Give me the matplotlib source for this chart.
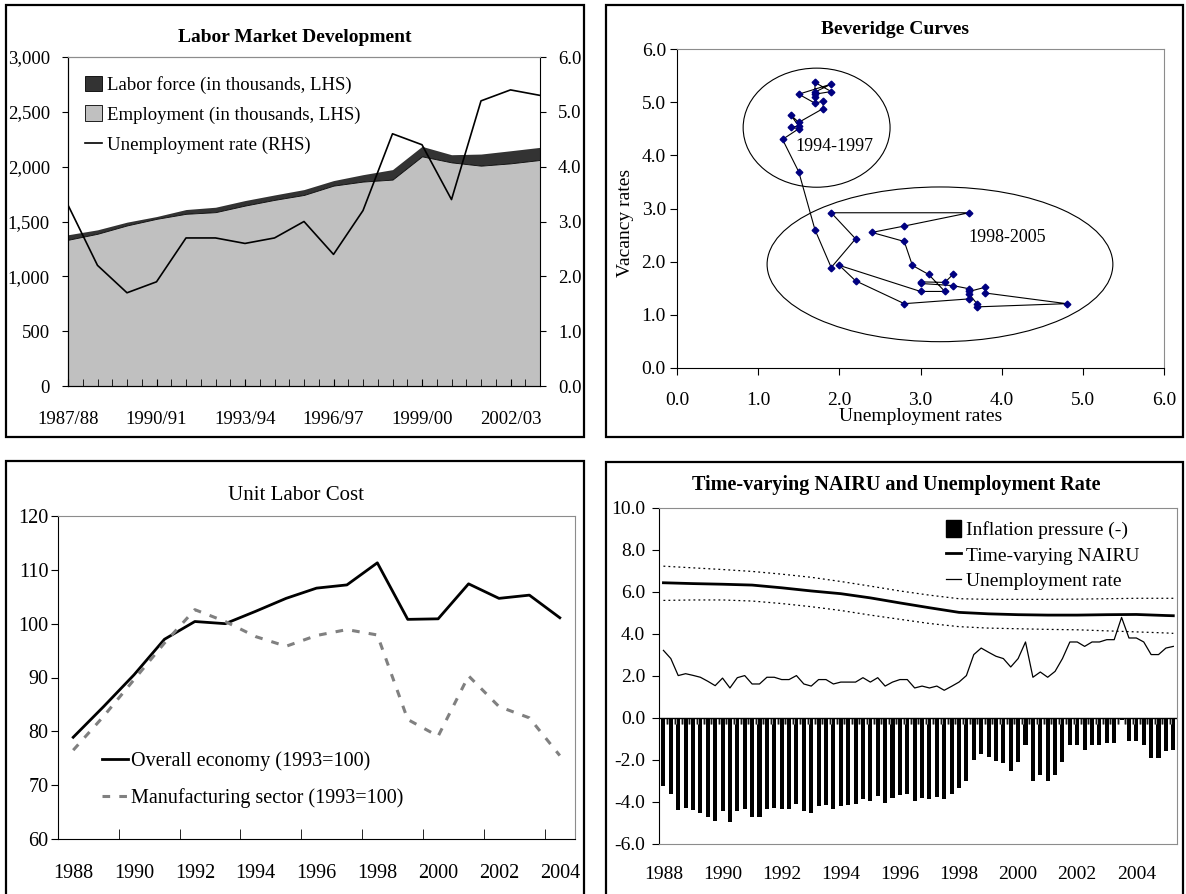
import matplotlib
matplotlib.use("Agg")
import matplotlib.pyplot as plt
from matplotlib.patches import Ellipse, Rectangle, Patch
from matplotlib.lines import Line2D
from matplotlib.ticker import FuncFormatter, MultipleLocator

plt.rcParams["font.family"] = ["Liberation Serif", "DejaVu Serif"]
plt.rcParams["axes.unicode_minus"] = False

W, H = 1186, 894

# ---- Labor market development (annual, 1987/88 - 2003/04)
lm_labels = ["1987/88", "1990/91", "1993/94", "1996/97", "1999/00", "2002/03"]
labor_force = [1379, 1424, 1494, 1545, 1609, 1630, 1691, 1742, 1791, 1873,
               1927, 1973, 2185, 2109, 2115, 2145, 2176]
employment = [1333, 1388, 1464, 1524, 1570, 1585, 1645, 1697, 1742, 1827,
              1864, 1882, 2094, 2039, 2009, 2030, 2061]
unemp_annual = [3.3, 2.2, 1.7, 1.9, 2.7, 2.7, 2.6, 2.7, 3.0, 2.4,
                3.2, 4.6, 4.4, 3.4, 5.2, 5.4, 5.3]

# ---- Beveridge curve (unemployment rate, vacancy rate)
bev_u = [1.7, 1.7, 1.9, 1.7, 1.7, 1.9, 1.5, 1.7, 1.8, 1.8, 1.5, 1.4, 1.5, 1.4,
         1.5, 1.3, 1.5, 1.7, 1.9, 2.2, 1.9, 3.6, 2.8, 2.4, 2.8, 2.9, 3.1, 3.3,
         3.0, 2.0, 2.2, 2.8, 3.6, 3.6, 3.7, 3.7, 4.8, 3.8, 3.8, 3.6, 3.6, 3.4,
         3.0, 3.0, 3.3, 3.4]
bev_v = [5.10, 5.37, 5.20, 5.15, 5.19, 5.34, 5.15, 4.98, 5.02, 4.88, 4.62, 4.76,
         4.55, 4.53, 4.50, 4.30, 3.69, 2.60, 1.89, 2.43, 2.92, 2.92, 2.67, 2.55,
         2.38, 1.93, 1.76, 1.44, 1.44, 1.93, 1.64, 1.21, 1.30, 1.39, 1.20, 1.15,
         1.21, 1.41, 1.52, 1.44, 1.49, 1.55, 1.59, 1.62, 1.61, 1.76]

# ---- Unit labor cost
ulc_years = list(range(1988, 2005))
ulc_overall = [78.9, 84.6, 90.5, 97.1, 100.4, 100.0, 102.3, 104.7, 106.6, 107.2,
               111.3, 100.8, 100.9, 107.4, 104.7, 105.3, 101.1]
ulc_manuf = [76.5, 82.8, 89.6, 96.4, 102.6, 100.4, 97.6, 95.8, 97.8, 98.9,
             97.9, 82.2, 79.1, 90.3, 84.6, 82.5, 75.5]

# ---- NAIRU (quarterly 1988Q1 - 2005Q2)
nr_labels = ["1988", "1990", "1992", "1994", "1996", "1998", "2000", "2002", "2004"]
infl_pressure = [-3.25, -3.6, -4.4, -4.3, -4.4, -4.5, -4.7, -4.9, -4.45, -4.95,
                 -4.45, -4.35, -4.7, -4.7, -4.35, -4.3, -4.35, -4.35, -4.1, -4.45,
                 -4.5, -4.2, -4.15, -4.35, -4.2, -4.15, -4.1, -3.85, -3.95, -3.7,
                 -4.05, -3.8, -3.65, -3.6, -3.95, -3.8, -3.85, -3.75, -3.85, -3.6,
                 -3.35, -3.0, -2.0, -1.7, -1.85, -2.05, -2.15, -2.5, -2.1, -1.3,
                 -3.0, -2.7, -3.0, -2.7, -2.1, -1.3, -1.3, -1.5, -1.3, -1.3,
                 -1.2, -1.2, -0.1, -1.1, -1.1, -1.3, -1.9, -1.9, -1.55, -1.5]
unemp_q = [3.22, 2.83, 2.02, 2.11, 2.03, 1.94, 1.75, 1.54, 1.90, 1.43,
           1.92, 2.02, 1.62, 1.62, 1.94, 1.94, 1.83, 1.83, 2.02, 1.62,
           1.52, 1.83, 1.83, 1.62, 1.71, 1.71, 1.71, 1.92, 1.71, 1.92,
           1.52, 1.71, 1.83, 1.83, 1.43, 1.52, 1.43, 1.52, 1.32, 1.51,
           1.71, 2.02, 3.02, 3.33, 3.13, 2.94, 2.83, 2.43, 2.83, 3.62,
           1.94, 2.19, 1.94, 2.22, 2.83, 3.62, 3.62, 3.41, 3.62, 3.62,
           3.73, 3.73, 4.79, 3.81, 3.81, 3.62, 3.02, 3.02, 3.33, 3.41]
# NAIRU and its band, read once a year (quarter index of each Q1, plus last quarter)
nairu_q = [0, 4, 8, 12, 16, 20, 24, 28, 32, 36, 40, 44, 48, 52, 56, 60, 64, 68, 69]
nairu = [6.44, 6.40, 6.37, 6.33, 6.20, 6.05, 5.92, 5.72, 5.48, 5.25,
         5.03, 4.96, 4.92, 4.90, 4.90, 4.92, 4.93, 4.88, 4.87]
nairu_hi = [7.23, 7.15, 7.07, 6.98, 6.85, 6.70, 6.50, 6.28, 6.05, 5.85,
            5.68, 5.65, 5.65, 5.65, 5.66, 5.68, 5.70, 5.70, 5.70]
nairu_lo = [5.60, 5.62, 5.62, 5.57, 5.45, 5.30, 5.12, 4.90, 4.70, 4.50,
            4.35, 4.28, 4.25, 4.22, 4.20, 4.15, 4.10, 4.05, 4.03]


def box(x0, y0, x1, y1):
    # pixel box (top-left origin) -> figure fraction rect
    return [x0 / W, 1 - y1 / H, (x1 - x0) / W, (y1 - y0) / H]


def ftext(x, y, s, **kw):
    fig.text(x / W, 1 - y / H, s, ha="center", va="center", **kw)


fig = plt.figure(figsize=(W / 100, H / 100), dpi=100)

# panel frames
for x0, y0, x1, y1 in [(6, 5, 584, 437), (606, 5, 1183, 437),
                       (6, 461, 584, 900), (606, 462, 1183, 900)]:
    fig.patches.append(Rectangle((x0 / W, 1 - y1 / H), (x1 - x0) / W, (y1 - y0) / H,
                                 transform=fig.transFigure, fill=False,
                                 edgecolor="black", linewidth=1.6))

GRAY = "#8c8c8c"

# ---------------- top-left: Labor Market Development
ax1 = fig.add_axes(box(68, 57, 540, 386))
xs = list(range(len(employment)))
ax1.fill_between(xs, employment, labor_force, color="#333333", linewidth=0)
ax1.fill_between(xs, 0, employment, color="#c0c0c0", edgecolor="black", linewidth=0.6)
ax1.set_xlim(0, 16)
ax1.set_ylim(0, 3000)
ax1.set_yticks(range(0, 3001, 500))
ax1.yaxis.set_major_formatter(FuncFormatter(lambda v, p: f"{int(v):,}"))
ax1.set_xticks([0, 3, 6, 9, 12, 15])
ax1.set_xticklabels(lm_labels)
ax1.xaxis.set_minor_locator(MultipleLocator(0.5))
ax1.tick_params(axis="x", which="both", direction="in", length=5, labelsize=13.5, pad=18)
ax1.tick_params(axis="y", direction="out", length=4, labelsize=13.5, pad=9)
ax1.spines["top"].set_color(GRAY)
ax1.spines["right"].set_visible(False)
ax1b = ax1.twinx()
ax1b.plot(xs, unemp_annual, color="black", linewidth=1.2)
ax1b.set_ylim(0, 6)
ax1b.set_yticks([0, 1, 2, 3, 4, 5, 6])
ax1b.yaxis.set_major_formatter(FuncFormatter(lambda v, p: f"{v:.1f}"))
ax1b.tick_params(axis="y", direction="out", length=4, labelsize=13.5, pad=9)
ax1b.spines["top"].set_color(GRAY)
ax1b.set_xlim(0, 16)
handles = [Patch(facecolor="#333333", edgecolor="black", linewidth=0.6),
           Patch(facecolor="#c0c0c0", edgecolor="black", linewidth=0.6),
           Line2D([], [], color="black", linewidth=1.2)]
ax1b.legend(handles, ["Labor force (in thousands, LHS)", "Employment (in thousands, LHS)",
                      "Unemployment rate (RHS)"],
            loc="upper left", bbox_to_anchor=(0.0, 0.995), frameon=False, fontsize=13.5,
            handlelength=0.9, handleheight=0.9, handletextpad=0.3, labelspacing=0.62)
ftext(295, 37, "Labor Market Development", fontsize=14, fontweight="bold")

# ---------------- top-right: Beveridge curves
ax2 = fig.add_axes(box(677, 49, 1164, 368))
ax2.plot(bev_u, bev_v, color="black", linewidth=0.8, marker="D", markersize=3.4,
         markerfacecolor="#000080", markeredgecolor="#000080")
ax2.add_patch(Ellipse((1.72, 4.52), 1.81, 2.24, fill=False, edgecolor="black", linewidth=0.8))
ax2.add_patch(Ellipse((3.24, 1.95), 4.26, 2.91, fill=False, edgecolor="black", linewidth=0.8))
ax2.text(1.94, 4.16, "1994-1997", ha="center", va="center", fontsize=13)
ax2.text(4.07, 2.46, "1998-2005", ha="center", va="center", fontsize=13)
ax2.set_xlim(0, 6)
ax2.set_ylim(0, 6)
ax2.set_xticks([0, 1, 2, 3, 4, 5, 6])
ax2.set_yticks([0, 1, 2, 3, 4, 5, 6])
fmt1 = FuncFormatter(lambda v, p: f"{v:.1f}")
ax2.xaxis.set_major_formatter(fmt1)
ax2.yaxis.set_major_formatter(fmt1)
ax2.tick_params(axis="x", direction="out", length=5, labelsize=14, pad=12)
ax2.tick_params(axis="y", direction="out", length=5, labelsize=14, pad=3)
ax2.spines["top"].set_color(GRAY)
ax2.spines["right"].set_color(GRAY)
ftext(895, 30, "Beveridge Curves", fontsize=14, fontweight="bold")
ftext(921, 417, "Unemployment rates", fontsize=14)
ftext(626, 223, "Vacancy rates", fontsize=14, rotation=90)

# ---------------- bottom-left: Unit labor cost
ax3 = fig.add_axes(box(58, 516, 575, 839))
ax3.plot(ulc_years, ulc_overall, color="black", linewidth=2.0,
         label="Overall economy (1993=100)")
ax3.plot(ulc_years, ulc_manuf, color="#808080", linewidth=2.2, dashes=(2.5, 3),
         label="Manufacturing sector (1993=100)")
ax3.set_xlim(1987.5, 2004.5)
ax3.set_ylim(60, 120)
ax3.set_yticks(range(60, 121, 10))
ax3.set_xticks(range(1988, 2005, 2))
ax3.set_xticks([1989.5 + 2 * i for i in range(8)], minor=True)
ax3.tick_params(axis="x", which="major", length=0, labelsize=14.5, pad=18)
ax3.tick_params(axis="x", which="minor", direction="in", length=7)
ax3.tick_params(axis="y", direction="out", length=5, labelsize=14.5, pad=2)
ax3.spines["top"].set_color(GRAY)
ax3.spines["right"].set_color(GRAY)
ax3.legend(loc="lower left", bbox_to_anchor=(0.05, 0.041), frameon=False, fontsize=14.5,
           handlelength=1.3, handletextpad=0.15, labelspacing=0.85)
ftext(296, 495, "Unit Labor Cost", fontsize=15)

# ---------------- bottom-right: NAIRU
ax4 = fig.add_axes(box(659, 508, 1177, 844))
q = list(range(len(infl_pressure)))
ax4.bar(q, infl_pressure, width=0.55, color="black", label="Inflation pressure (-)")
ax4.vlines([i + 0.5 for i in q[:-1]], -0.3, 0, color="#9a9a9a", linewidth=2.2)
ax4.vlines([i + 0.5 for i in q[:-1]], -0.3, 0, color="black", linewidth=0.6)
ax4.axhline(0, color="black", linewidth=1.0)
ax4.plot(nairu_q, nairu, color="black", linewidth=2.0, label="Time-varying NAIRU")
ax4.plot(nairu_q, nairu_hi, color="black", linewidth=0.9, linestyle=(0, (1.5, 2.5)))
ax4.plot(nairu_q, nairu_lo, color="black", linewidth=0.9, linestyle=(0, (1.5, 2.5)))
ax4.plot(q, unemp_q, color="black", linewidth=0.9, label="Unemployment rate")
ax4.set_xlim(-0.6, 69.5)
ax4.set_ylim(-6, 10)
ax4.set_yticks(range(-6, 11, 2))
ax4.yaxis.set_major_formatter(fmt1)
ax4.set_xticks(list(range(0, 70, 8)))
ax4.set_xticklabels(nr_labels)
ax4.tick_params(axis="x", length=0, labelsize=14, pad=16)
ax4.tick_params(axis="y", direction="out", length=5, labelsize=14, pad=5)
for s in ["top", "right", "bottom"]:
    ax4.spines[s].set_color(GRAY)
h4 = [Patch(facecolor="black", edgecolor="black"),
      Line2D([], [], color="black", linewidth=2.0),
      Line2D([], [], color="black", linewidth=0.9)]
ax4.legend(h4, ["Inflation pressure (-)", "Time-varying NAIRU", "Unemployment rate"],
           loc="upper left", bbox_to_anchor=(0.52, 1.015), frameon=False, fontsize=14,
           handlelength=0.8, handleheight=0.9, handletextpad=0.25, labelspacing=0.35)
ftext(896, 485, "Time-varying NAIRU and Unemployment Rate", fontsize=14.5, fontweight="bold")

fig.savefig("out.png", dpi=100)
print("saved out.png")
